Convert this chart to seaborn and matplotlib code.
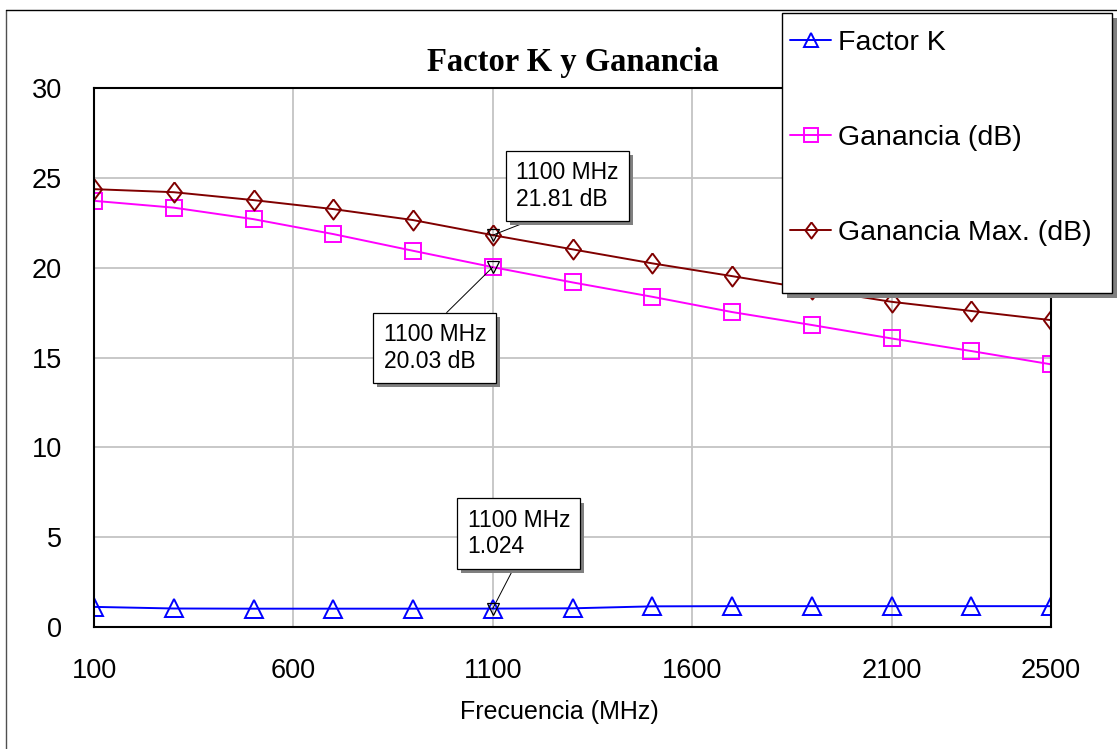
import matplotlib
matplotlib.use("Agg")
import matplotlib.pyplot as plt
import matplotlib.patheffects as pe
from matplotlib.lines import Line2D
from matplotlib.patches import Rectangle
import seaborn as sns

# Frequency sweep (MHz) and measured quantities
freq_mhz = [100, 300, 500, 700, 900, 1100, 1300, 1500, 1700, 1900, 2100, 2300, 2500]
factor_k = [1.12, 1.03, 1.02, 1.02, 1.02, 1.024, 1.04, 1.15, 1.16, 1.16, 1.16, 1.16, 1.16]
ganancia_db = [23.72, 23.34, 22.70, 21.87, 20.94, 20.03, 19.18, 18.38, 17.53, 16.81, 16.06, 15.36, 14.62]
ganancia_max_db = [24.37, 24.20, 23.76, 23.26, 22.65, 21.81, 21.02, 20.24, 19.53, 18.80, 18.10, 17.59, 17.08]

series_labels = ["Factor K", "Ganancia (dB)", "Ganancia Max. (dB)"]
x_ticks = [100, 600, 1100, 1600, 2100, 2500]
y_ticks = [0, 5, 10, 15, 20, 25, 30]
marker_freq = 1100

sns.set_theme(style="white")
plt.rcParams["font.family"] = ["Liberation Sans", "DejaVu Sans"]
plt.rcParams["text.color"] = "black"
plt.rcParams["axes.labelcolor"] = "black"

W, H = 1117, 749
fig = plt.figure(figsize=(W / 100, H / 100), dpi=100)
ax = fig.add_axes([94 / W, 1 - 627 / H, (1051 - 94) / W, (627 - 88) / H])

diamond = [(0, 1), (0.75, 0), (0, -1), (-0.75, 0), (0, 1)]
styles = [
    dict(color="#0000ff", marker="^", markersize=12.5),
    dict(color="#ff00ff", marker="s", markersize=12),
    dict(color="#800000", marker=diamond, markersize=14.5),
]
series = [factor_k, ganancia_db, ganancia_max_db]

for vals, label, st in zip(series, series_labels, styles):
    sns.lineplot(x=freq_mhz, y=vals, ax=ax, label=label, legend=False,
                 color=st["color"], marker=st["marker"], markersize=st["markersize"],
                 markerfacecolor="none", markeredgecolor=st["color"],
                 markeredgewidth=1.4, linewidth=1.4, zorder=3)

ax.set_xlim(100, 2500)
ax.set_ylim(0, 30)
ax.set_xticks(x_ticks)
ax.set_yticks(y_ticks)
ax.tick_params(axis="both", length=0, labelsize=19.5, colors="black")
ax.tick_params(axis="x", pad=22)
ax.tick_params(axis="y", pad=23)
ax.grid(True, color="#c4c4c4", linewidth=1.3)
for s in ax.spines.values():
    s.set_color("black")
    s.set_linewidth(1.5)
    s.set_zorder(4)

ax.set_xlabel("Frecuencia (MHz)", fontsize=18, color="black")
ax.xaxis.set_label_coords((559.5 - 94) / 957, -(700 - 627) / 539)
ax.set_ylabel("")

fig.text(573 / W, 1 - 62 / H, "Factor K y Ganancia", ha="center", va="center",
         fontsize=23.5, fontweight="bold", color="black",
         family=["Liberation Serif", "DejaVu Serif"])

# Marker readouts at 1100 MHz
idx = freq_mhz.index(marker_freq)
readouts = [
    (ganancia_max_db[idx], f"{marker_freq} MHz\n{ganancia_max_db[idx]:.2f} dB", (75, 49), (0.37, 0.0)),
    (ganancia_db[idx], f"{marker_freq} MHz\n{ganancia_db[idx]:.2f} dB", (-58, -81), (0.51, 1.0)),
    (factor_k[idx], f"{marker_freq} MHz\n{factor_k[idx]:.3f}", (26, 75), (0.5, 0.0)),
]
for val, txt, off, rel in readouts:
    ax.plot([marker_freq], [val], marker="v", markersize=8, markerfacecolor="none",
            markeredgecolor="black", markeredgewidth=0.9, zorder=5)
    ann = ax.annotate(txt, xy=(marker_freq, val), xytext=off, textcoords="offset pixels",
                      ha="center", va="center", multialignment="left", fontsize=16.5,
                      color="black",
                      bbox=dict(boxstyle="square,pad=0.45", fc="white", ec="black", lw=0.9),
                      arrowprops=dict(arrowstyle="-", color="black", lw=0.7,
                                      shrinkA=0, shrinkB=0, relpos=rel),
                      zorder=6)
    ann.get_bbox_patch().set_path_effects([
        pe.SimplePatchShadow(offset=(3, -3), shadow_rgbFace="#808080", alpha=1.0),
        pe.Normal()])

# Outer frame of the chart area
fig.add_artist(Line2D([6 / W, 6 / W], [1 - 10 / H, 0], transform=fig.transFigure,
                      color="#505050", lw=1.0))
fig.add_artist(Line2D([6 / W, 1], [1 - 10 / H, 1 - 10 / H], transform=fig.transFigure,
                      color="black", lw=1.0))

# Legend panel with drop shadow
lx0, ly0, lx1, ly1 = 782, 13, 1112, 293
fig.add_artist(Rectangle(((lx0 + 5) / W, 1 - (ly1 + 5) / H), (lx1 - lx0) / W, (ly1 - ly0) / H,
                         transform=fig.transFigure, facecolor="#808080", edgecolor="none",
                         zorder=7))
fig.add_artist(Rectangle((lx0 / W, 1 - ly1 / H), (lx1 - lx0) / W, (ly1 - ly0) / H,
                         transform=fig.transFigure, facecolor="white", edgecolor="black",
                         lw=1.0, zorder=8))
handles, labels = ax.get_legend_handles_labels()
leg = fig.legend(handles, labels, loc="upper left", bbox_to_anchor=(790 / W, 1 - 30 / H),
                 frameon=False, fontsize=20.5, handlelength=1.45, handletextpad=0.25,
                 labelspacing=2.42, borderpad=0, borderaxespad=0, markerscale=0.8)
leg.set_zorder(9)
for t in leg.get_texts():
    t.set_color("black")

fig.savefig("out.png", dpi=100)
